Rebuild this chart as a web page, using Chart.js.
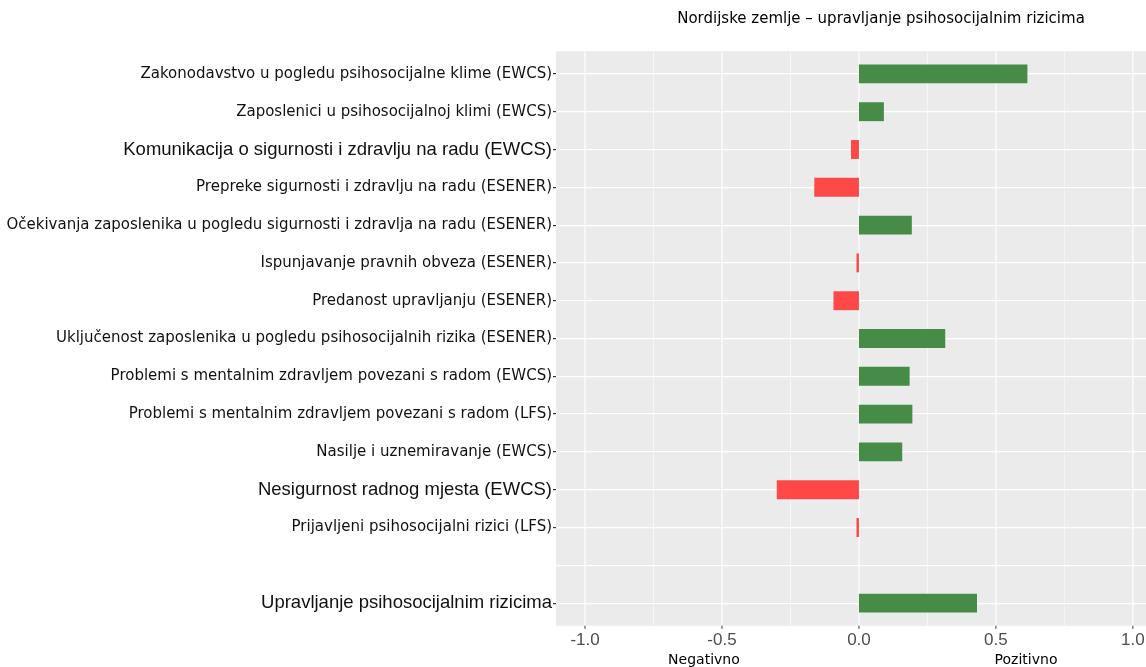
<!DOCTYPE html>
<html>
<head>
<meta charset="utf-8">
<script src="https://cdn.jsdelivr.net/npm/chart.js@4"></script>
<style>
  html, body { margin: 0; padding: 0; background: #fff; overflow: hidden; }
  #wrap { width: 1146px; height: 667px; overflow: hidden; }
</style>
</head>
<body>
<div id="wrap"><canvas id="chart" width="1210" height="667"></canvas></div>
<script>
const categories = [
  'Zakonodavstvo u pogledu psihosocijalne klime (EWCS)',
  'Zaposlenici u psihosocijalnoj klimi (EWCS)',
  'Komunikacija o sigurnosti i zdravlju na radu (EWCS)',
  'Prepreke sigurnosti i zdravlju na radu (ESENER)',
  'Očekivanja zaposlenika u pogledu sigurnosti i zdravlja na radu (ESENER)',
  'Ispunjavanje pravnih obveza (ESENER)',
  'Predanost upravljanju (ESENER)',
  'Uključenost zaposlenika u pogledu psihosocijalnih rizika (ESENER)',
  'Problemi s mentalnim zdravljem povezani s radom (EWCS)',
  'Problemi s mentalnim zdravljem povezani s radom (LFS)',
  'Nasilje i uznemiravanje (EWCS)',
  'Nesigurnost radnog mjesta (EWCS)',
  'Prijavljeni psihosocijalni rizici (LFS)',
  '',
  'Upravljanje psihosocijalnim rizicima'
];
const values = [0.615, 0.091, -0.029, -0.163, 0.193, -0.009, -0.093, 0.315, 0.185, 0.195, 0.158, -0.30, -0.009, null, 0.431];

const xTicks = [-1.0, -0.5, 0.0, 0.5, 1.0];
const xMinor = [-0.75, -0.25, 0.25, 0.75, 1.25];
const sideLabels = [{ text: 'Negativno', at: -0.566 }, { text: 'Pozitivno', at: 0.61 }];
const title = 'Nordijske zemlje – upravljanje psihosocijalnim rizicima';

// labels that the original renders in the plain (larger) sans face
const plainIdx = [2, 11, 14];

const GREEN = '#468b46';
const RED = '#ff4848';
const SMALL_FONT = '"DejaVu Sans", "Liberation Sans", sans-serif';
const PLAIN_FONT = '"Liberation Sans", Arial, sans-serif';

// grey ggplot-like panel, slightly taller than the category band
const panelPlugin = {
  id: 'panel',
  beforeDraw(chart) {
    const { ctx, chartArea: a, scales } = chart;
    const step = (a.bottom - a.top) / categories.length;
    const top = a.top - step * 0.1, bottom = a.bottom + step * 0.1;
    ctx.save();
    ctx.fillStyle = '#ebebeb';
    ctx.fillRect(a.left, top, a.right - a.left, bottom - top);
    ctx.strokeStyle = '#ffffff';
    xMinor.forEach(v => {
      const x = scales.x.getPixelForValue(v);
      ctx.lineWidth = 0.6;
      ctx.beginPath(); ctx.moveTo(x, top); ctx.lineTo(x, bottom); ctx.stroke();
    });
    xTicks.forEach(v => {
      const x = scales.x.getPixelForValue(v);
      ctx.lineWidth = 1.2;
      ctx.strokeStyle = '#ffffff';
      ctx.beginPath(); ctx.moveTo(x, top); ctx.lineTo(x, bottom); ctx.stroke();
      ctx.strokeStyle = '#333333';
      ctx.lineWidth = 1;
      ctx.beginPath(); ctx.moveTo(x, bottom); ctx.lineTo(x, bottom + 3); ctx.stroke();
    });
    ctx.restore();
  },
  afterDraw(chart) {
    const { ctx, chartArea: a, scales } = chart;
    ctx.save();
    ctx.fillStyle = '#000';
    ctx.textAlign = 'center';
    ctx.textBaseline = 'middle';
    ctx.font = '15px ' + SMALL_FONT;
    ctx.fillText(title, (a.left + a.right) / 2, 19);
    ctx.font = '14px ' + SMALL_FONT;
    sideLabels.forEach(l => {
      ctx.fillText(l.text, scales.x.getPixelForValue(l.at), 660);
    });
    ctx.restore();
  }
};

new Chart(document.getElementById('chart'), {
  type: 'bar',
  data: {
    labels: categories,
    datasets: [{
      data: values,
      backgroundColor: values.map(v => v >= 0 ? GREEN : RED),
      borderWidth: 0,
      barPercentage: 0.5,
      categoryPercentage: 1
    }]
  },
  options: {
    indexAxis: 'y',
    responsive: false,
    animation: false,
    layout: { padding: { top: 55, right: 4, left: 0, bottom: 0 } },
    plugins: {
      legend: { display: false },
      tooltip: { enabled: false },
      title: { display: false }
    },
    scales: {
      x: {
        type: 'linear',
        min: -1.106,
        max: 1.267,
        afterBuildTicks: s => { s.ticks = xTicks.map(v => ({ value: v })); },
        afterFit: s => { s.height = 45; },
        grid: { display: false, drawTicks: false },
        border: { display: false },
        ticks: {
          color: '#4d4d4d',
          padding: 8,
          maxRotation: 0,
          font: { family: PLAIN_FONT, size: 17 },
          callback: v => v.toFixed(1)
        }
      },
      y: {
        type: 'category',
        offset: true,
        afterFit: s => { s.width = 556; },
        grid: {
          offset: false,
          color: '#ffffff',
          lineWidth: 1.2,
          tickColor: ctx => categories[ctx.index] ? '#333333' : 'rgba(0,0,0,0)',
          tickLength: 3
        },
        border: { display: false },
        ticks: {
          color: '#111',
          padding: 1,
          autoSkip: false,
          font: ctx => plainIdx.includes(ctx.index)
            ? { family: PLAIN_FONT, size: 18.5 }
            : { family: SMALL_FONT, size: 15 }
        }
      }
    }
  },
  plugins: [panelPlugin]
});
</script>
</body>
</html>
